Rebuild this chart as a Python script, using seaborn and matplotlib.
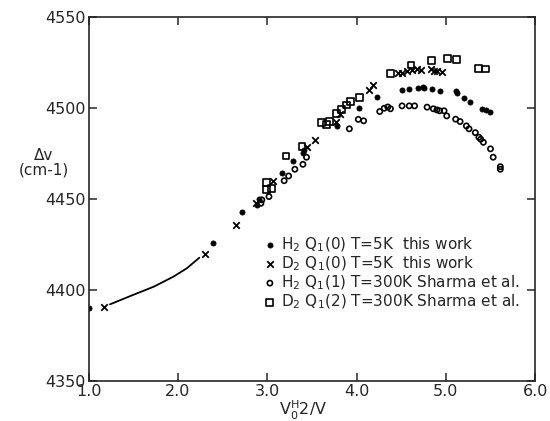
import numpy as np
import pandas as pd
import matplotlib
matplotlib.use("Agg")
import matplotlib.pyplot as plt
import seaborn as sns

# H2 Q1(0) T=5K this work (filled dots)
h2_5k_x = [1.00, 2.39, 2.72, 2.89, 2.91, 3.17, 3.29, 3.40, 3.41, 3.78, 4.03, 4.23,
           4.51, 4.59, 4.69, 4.74, 4.76, 4.85, 4.93, 5.11, 5.13, 5.20, 5.27, 5.41, 5.45, 5.50]
h2_5k_y = [4390, 4426, 4442.7, 4446.7, 4450, 4464.5, 4470.9, 4475, 4476.9, 4490, 4500, 4505.8,
           4509.9, 4510.4, 4511.1, 4511.7, 4511.1, 4510.3, 4509.5, 4509.0, 4508.1, 4505.7,
           4503.0, 4499.5, 4499.0, 4498.0]

# D2 Q1(0) T=5K this work (crosses)
d2_5k_x = [1.17, 2.30, 2.65, 2.87, 3.07, 3.45, 3.53, 3.77, 3.82, 4.14, 4.19, 4.46, 4.51,
           4.57, 4.62, 4.68, 4.72, 4.83, 4.87, 4.90, 4.96]
d2_5k_y = [4390.8, 4419.8, 4435.7, 4447.6, 4460, 4478.5, 4482.4, 4492, 4496.7, 4509.9, 4512.3,
           4519, 4519, 4520, 4521, 4521.3, 4521, 4521.3, 4520.5, 4520, 4519.6]

# H2 Q1(1) T=300K Sharma et al. (open circles)
h2_300k_x = [2.93, 2.94, 3.02, 3.19, 3.24, 3.31, 3.40, 3.44, 3.92, 4.02, 4.08, 4.26, 4.31,
             4.35, 4.38, 4.51, 4.59, 4.65, 4.79, 4.86, 4.90, 4.93, 4.98, 5.01, 5.11, 5.16,
             5.23, 5.26, 5.33, 5.37, 5.39, 5.42, 5.50, 5.53, 5.61, 5.61]
h2_300k_y = [4447.6, 4449.5, 4451.3, 4460, 4462.6, 4466.3, 4469, 4472.9, 4488.5, 4493.7,
             4492.9, 4498, 4499.8, 4500.5, 4499.5, 4501.1, 4501.1, 4501.1, 4500.4, 4499.5,
             4498.9, 4498.4, 4498.4, 4495.6, 4493.8, 4492.5, 4490.1, 4488.5, 4486.4, 4483.9,
             4482.8, 4481.1, 4477.5, 4472.9, 4467.7, 4466.3]

# D2 Q1(2) T=300K Sharma et al. (open squares)
d2_300k_x = [2.99, 2.99, 3.05, 3.21, 3.39, 3.61, 3.66, 3.70, 3.78, 3.83, 3.89, 3.93, 4.03,
             4.38, 4.61, 4.84, 5.02, 5.12, 5.37, 5.44]
d2_300k_y = [4459, 4455, 4455.9, 4473.6, 4478.7, 4492, 4490.7, 4492.5, 4496.7, 4499.3, 4501.6,
             4503.5, 4505.8, 4519, 4523.6, 4526, 4527.3, 4526.4, 4521.8, 4521.3]

# hand-drawn curve at low pressure
curve_x = [1.24, 1.50, 1.73, 1.95, 2.10, 2.24]
curve_y = [4392.1, 4397.3, 4401.8, 4407.3, 4411.9, 4417.7]

labels = [r"H$_2$ Q$_1$(0) T=5K  this work",
          r"D$_2$ Q$_1$(0) T=5K  this work",
          r"H$_2$ Q$_1$(1) T=300K Sharma et al.",
          r"D$_2$ Q$_1$(2) T=300K Sharma et al."]

sns.set_style("ticks")
plt.rcParams["font.family"] = ["DejaVu Sans"]
plt.rcParams["mathtext.default"] = "regular"

fig = plt.figure(figsize=(5.5, 4.21), dpi=100)
ax = fig.add_axes([0.161, 0.095, 0.812, 0.865])

sns.lineplot(x=curve_x, y=curve_y, ax=ax, color="black", lw=1.3, sort=False)

sns.scatterplot(x=h2_5k_x, y=h2_5k_y, ax=ax, marker="o", s=14, color="black",
                edgecolor="black", linewidth=0.5, label=labels[0])
sns.scatterplot(x=d2_5k_x, y=d2_5k_y, ax=ax, marker="x", s=22, color="black",
                linewidth=1.3, label=labels[1])
sns.scatterplot(x=h2_300k_x, y=h2_300k_y, ax=ax, marker="o", s=14, facecolor="none",
                edgecolor="black", linewidth=1.2, label=labels[2])
sns.scatterplot(x=d2_300k_x, y=d2_300k_y, ax=ax, marker="s", s=24, facecolor="none",
                edgecolor="black", linewidth=1.2, label=labels[3])

ax.set_xlim(1.0, 6.0)
ax.set_ylim(4350, 4550)
ax.set_xticks(np.arange(1.0, 6.01, 1.0))
ax.set_xticklabels([f"{v:.1f}" for v in np.arange(1.0, 6.01, 1.0)])
ax.set_yticks(np.arange(4350, 4551, 50))
ax.tick_params(direction="in", top=True, right=True, length=6, width=1.1,
               labelsize=11.5, pad=2)
for sp in ax.spines.values():
    sp.set_linewidth(1.2)

ax.set_xlabel(r"V$_0^H$2/V", fontsize=11.5)
ax.xaxis.set_label_coords(0.48, -0.05)
ax.set_ylabel("Δv\n(cm-1)", rotation=0, fontsize=11, ha="center", va="center",
              linespacing=1.0)
ax.yaxis.set_label_coords(-0.1, 0.6)

ax.legend(loc="upper left", bbox_to_anchor=(0.365, 0.43), frameon=False, fontsize=11,
          handletextpad=0.2, labelspacing=0.05, handlelength=1.0, borderpad=0.2)

fig.savefig("out.png", dpi=100)
